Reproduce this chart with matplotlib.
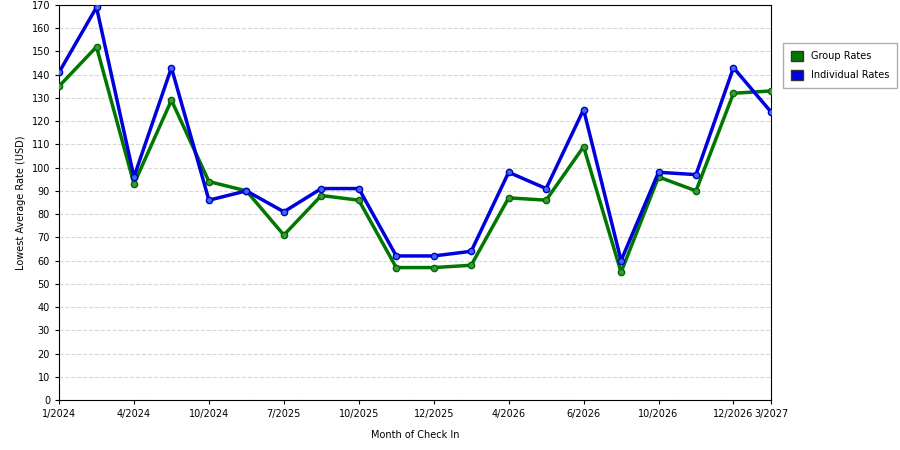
import numpy as np
import matplotlib.pyplot as plt
from matplotlib.patches import Patch

# values (20 monthly check-in points)
group_rates = [135, 152, 93, 129, 94, 90, 71, 88, 86, 57,
               57, 58, 87, 86, 109, 55, 96, 90, 132, 133]
individual_rates = [141, 169, 96, 143, 86, 90, 81, 91, 91, 62,
                    62, 64, 98, 91, 125, 60, 98, 97, 143, 124]
tick_idx = [0, 2, 4, 6, 8, 10, 12, 14, 16, 18, 19]
tick_labels = ['1/2024', '4/2024', '10/2024', '7/2025', '10/2025', '12/2025',
               '4/2026', '6/2026', '10/2026', '12/2026', '3/2027']

x = np.arange(len(group_rates))

fig = plt.figure(figsize=(9, 4.5), dpi=100)
ax = fig.add_axes([0.0656, 0.111, 0.791, 0.878])

ax.plot(x, group_rates, color='#007700', lw=2.5, marker='o', ms=4.5,
        mfc='#3a9a3a', mec='#006600', zorder=3)
ax.plot(x, individual_rates, color='#0000dd', lw=2.5, marker='o', ms=4.5,
        mfc='#3a6aff', mec='#0000bb', zorder=4)

ax.set_xlim(0, len(x) - 1)
ax.set_ylim(0, 170)
ax.set_yticks(range(0, 171, 10))
ax.set_xticks(tick_idx)
ax.set_xticklabels(tick_labels)
ax.tick_params(labelsize=7, length=3)
ax.grid(axis='y', color='#d8d8d8', linestyle='--', lw=0.8)
ax.set_axisbelow(True)
ax.set_xlabel('Month of Check In', fontsize=7, labelpad=8)
ax.set_ylabel('Lowest Average Rate (USD)', fontsize=7)

fig.legend(handles=[Patch(facecolor='#007700', edgecolor='#333333', label='Group Rates'),
                    Patch(facecolor='#0000dd', edgecolor='#333333', label='Individual Rates')],
           loc='upper left', bbox_to_anchor=(0.865, 0.915), fontsize=7,
           fancybox=False, edgecolor='#999999', handlelength=1.2, handleheight=1.2,
           labelspacing=0.9, borderpad=0.8)

fig.savefig('out.png')
